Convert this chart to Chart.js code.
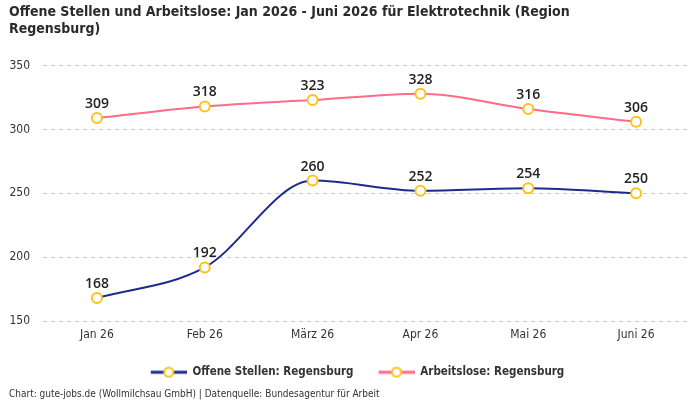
<!DOCTYPE html>
<html>
<head>
<meta charset="utf-8">
<script src="https://cdn.jsdelivr.net/npm/chart.js@4.4.1/dist/chart.umd.min.js"></script>
<style>
  html, body { margin: 0; padding: 0; background: #fff; }
  #wrap { width: 700px; height: 400px; }
</style>
</head>
<body>
<div id="wrap"><canvas id="chart"></canvas></div>
<script>
// chart data
const months = ['Jan 26', 'Feb 26', 'März 26', 'Apr 26', 'Mai 26', 'Juni 26'];
const offeneStellen = [168, 192, 260, 252, 254, 250];
const arbeitslose = [309, 318, 323, 328, 316, 306];

const navy = '#1b2b8e';
const pink = '#ff6b88';
const yellow = '#ffc21a';
const narrow = '"DejaVu Sans Condensed", sans-serif';

// legend marker: short line with a hollow circle, blank space on the left as gap to the previous item
function legendIcon(color) {
    const c = document.createElement('canvas');
    c.width = 52;
    c.height = 12;
    const g = c.getContext('2d');
    g.strokeStyle = color;
    g.lineWidth = 3;
    g.beginPath();
    g.moveTo(16, 6);
    g.lineTo(52, 6);
    g.stroke();
    g.beginPath();
    g.arc(34, 6, 4.5, 0, Math.PI * 2);
    g.fillStyle = '#fff';
    g.fill();
    g.strokeStyle = yellow;
    g.lineWidth = 2;
    g.stroke();
    return c;
}

// value labels above every point
const valueLabels = {
    id: 'valueLabels',
    afterDatasetsDraw(chart) {
        const ctx = chart.ctx;
        ctx.save();
        ctx.font = '600 14px "Open Sans", sans-serif';
        ctx.fillStyle = '#222';
        ctx.textAlign = 'center';
        ctx.textBaseline = 'bottom';
        chart.data.datasets.forEach((ds, i) => {
            chart.getDatasetMeta(i).data.forEach((pt, j) => {
                ctx.fillText(String(ds.data[j]), pt.x, pt.y - 7);
            });
        });
        ctx.restore();
    }
};

new Chart(document.getElementById('chart'), {
    type: 'line',
    data: {
        labels: months,
        datasets: [
            {
                label: 'Offene Stellen: Regensburg',
                data: offeneStellen,
                borderColor: navy,
                backgroundColor: navy,
                borderWidth: 2,
                cubicInterpolationMode: 'monotone',
                pointRadius: 5,
                pointBorderWidth: 2,
                pointBorderColor: yellow,
                pointBackgroundColor: '#fff',
            },
            {
                label: 'Arbeitslose: Regensburg',
                data: arbeitslose,
                borderColor: pink,
                backgroundColor: pink,
                borderWidth: 2,
                cubicInterpolationMode: 'monotone',
                pointRadius: 5,
                pointBorderWidth: 2,
                pointBorderColor: yellow,
                pointBackgroundColor: '#fff',
            },
        ],
    },
    options: {
        responsive: true,
        maintainAspectRatio: false,
        animation: false,
        layout: { padding: { left: 9, right: 10, top: 0, bottom: 0 } },
        scales: {
            x: {
                offset: true,
                grid: { display: false, tickLength: 0 },
                border: { display: false },
                ticks: { color: '#333', font: { family: narrow, size: 12 }, padding: 7 },
                afterFit(scale) { scale.height += 8; },
            },
            y: {
                min: 150,
                max: 350,
                ticks: { stepSize: 50, color: '#333', font: { family: narrow, size: 12 }, padding: 13 },
                grid: { color: '#cccccc', tickLength: 0 },
                border: { display: false, dash: [4, 4] },
                afterFit(scale) { scale.width = 34; },
            },
        },
        plugins: {
            title: {
                display: true,
                text: ['Offene Stellen und Arbeitslose: Jan 2026 - Juni 2026 für Elektrotechnik (Region', 'Regensburg)'],
                align: 'start',
                color: '#2a2a2a',
                font: { family: narrow, size: 14, weight: 'bold', lineHeight: 1.2 },
                padding: { top: 4, bottom: 28 },
            },
            subtitle: {
                display: true,
                position: 'bottom',
                align: 'start',
                text: 'Chart: gute-jobs.de (Wollmilchsau GmbH) | Datenquelle: Bundesagentur für Arbeit',
                color: '#333',
                font: { family: narrow, size: 10 },
                padding: { top: 0, bottom: 0 },
            },
            legend: {
                position: 'bottom',
                labels: {
                    usePointStyle: true,
                    pointStyleWidth: 52,
                    color: '#333',
                    font: { family: narrow, size: 11.5, weight: 'bold' },
                    padding: 9,
                    generateLabels(chart) {
                        const items = Chart.defaults.plugins.legend.labels.generateLabels(chart);
                        items.forEach((it, i) => {
                            it.pointStyle = legendIcon(chart.data.datasets[i].borderColor);
                        });
                        return items;
                    },
                },
            },
            tooltip: { enabled: false },
        },
    },
    plugins: [valueLabels],
});
</script>
</body>
</html>
